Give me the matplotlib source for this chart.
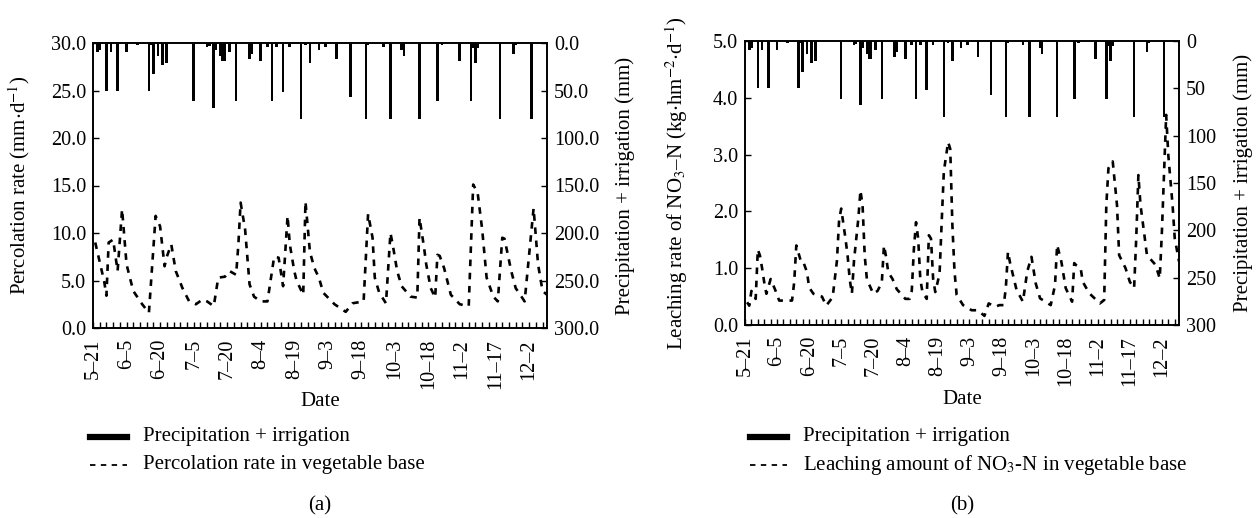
import matplotlib.pyplot as plt
from matplotlib.lines import Line2D
from matplotlib.ticker import FormatStrFormatter, MultipleLocator

plt.rcParams['font.family'] = ['Liberation Serif', 'DejaVu Serif']
plt.rcParams['mathtext.fontset'] = 'stix'

# x axis: days counted from 5-21
date_labels = ['5\u201321', '6\u20135', '6\u201320', '7\u20135', '7\u201320', '8\u20134', '8\u201319',
               '9\u20133', '9\u201318', '10\u20133', '10\u201318', '11\u20132', '11\u201317', '12\u20132']

# precipitation + irrigation (mm), same for both panels
rain_day = [2, 3, 6, 8, 11, 15, 20, 23, 25, 26, 27, 29, 31, 33, 45, 51, 52, 54, 55, 57, 58, 59, 61,
            64, 70, 71, 75, 78, 80, 82, 85, 88, 93, 95, 97, 101, 104, 109, 115, 122, 123, 130, 133,
            138, 139, 146, 154, 156, 164, 169, 170, 171, 172, 182, 188, 189, 196]
rain_mm = [9.5, 7, 50, 9.5, 50, 9.5, 2.5, 1, 50, 2, 33, 14, 23.5, 21, 61, 4.5, 3.5, 68, 7, 14, 19, 19, 9.5,
           61, 16.5, 12, 19, 4.5, 61, 4.5, 52, 4.5, 80, 2.5, 21, 7, 4.5, 16.5, 57, 80, 2.5, 4.5, 80,
           7, 14, 80, 61, 2.5, 18.5, 61, 5, 21, 5, 80, 11.5, 2.5, 80]

# (a) percolation rate (mm/d)
perc_day = [1, 5, 6, 7, 9, 11, 13, 15, 18, 22, 25, 28, 30, 32, 33, 35, 37, 40, 43, 46, 49, 51, 54, 56,
            59, 61, 64, 65, 66, 68, 70, 72, 75, 78, 81, 83, 85, 87, 88, 90, 91, 94, 95, 97, 99, 101,
            103, 108, 113, 116, 121, 123, 125, 126, 128, 131, 133, 134, 136, 138, 142, 145, 146, 148,
            149, 151, 153, 154, 155, 157, 160, 164, 168, 170, 172, 174, 176, 179, 181, 183, 184, 187,
            189, 193, 195, 197, 199, 201, 203]
perc_val = [9.0, 4.9, 3.4, 9.0, 9.3, 6.0, 12.5, 6.7, 3.9, 2.5, 1.6, 11.8, 10.7, 6.5, 7.5, 8.8, 6.0, 4.2,
            2.8, 2.5, 3.0, 2.8, 2.3, 5.3, 5.4, 6.0, 5.6, 8.8, 13.2, 10.4, 4.6, 3.3, 2.8, 2.8, 7.5, 7.4,
            4.4, 11.8, 8.8, 6.0, 5.0, 3.5, 13.3, 8.0, 6.3, 5.3, 3.7, 2.5, 1.7, 2.6, 2.8, 12.0, 9.5,
            5.3, 3.7, 2.6, 10.0, 8.8, 6.0, 4.4, 3.3, 3.2, 11.6, 8.5, 6.7, 4.2, 3.2, 7.7, 7.6, 6.3, 3.5,
            2.5, 2.3, 15.1, 14.2, 10.4, 5.3, 3.3, 2.8, 9.5, 9.4, 6.0, 4.2, 2.8, 7.7, 12.6, 6.7, 3.9, 3.5]

# (b) NO3-N leaching rate (kg/hm2/d)
leach_day = [1, 2, 3, 5, 6, 7, 8, 9, 10, 12, 14, 16, 18, 22, 23, 24, 26, 27, 29, 30, 32, 34, 36, 38,
             41, 43, 44, 45, 47, 48, 49, 50, 51, 53, 54, 55, 56, 57, 58, 60, 62, 64, 65, 66, 67, 69,
             71, 75, 77, 78, 79, 80, 81, 82, 83, 85, 86, 87, 88, 89, 91, 92, 93, 95, 96, 97, 98, 99,
             102, 106, 109, 112, 114, 117, 119, 121, 122, 123, 124, 127, 130, 132, 134, 136, 138,
             143, 145, 146, 148, 150, 153, 154, 155, 157, 158, 161, 166, 168, 169, 170, 172, 174,
             175, 178, 180, 182, 183, 184, 185, 187, 188, 192, 194, 195, 197, 198, 200, 201, 203]
leach_val = [0.40, 0.34, 0.60, 0.46, 1.33, 1.22, 1.0, 0.75, 0.55, 0.81, 0.63, 0.43, 0.43, 0.43, 0.75,
             1.40, 1.14, 1.14, 0.93, 0.66, 0.55, 0.52, 0.50, 0.34, 0.49, 1.13, 1.84, 2.05, 1.52, 1.22,
             0.80, 0.55, 1.14, 1.87, 2.37, 2.10, 1.22, 0.81, 0.72, 0.55, 0.60, 0.75, 1.40, 1.20, 0.93,
             0.81, 0.63, 0.46, 0.46, 0.60, 1.34, 1.81, 1.52, 0.81, 0.58, 0.46, 1.58, 1.52, 0.81, 0.58,
             0.90, 1.81, 2.70, 3.22, 3.10, 1.76, 0.94, 0.53, 0.35, 0.26, 0.26, 0.16, 0.38, 0.32, 0.35,
             0.35, 0.65, 1.29, 1.09, 0.62, 0.41, 0.94, 1.20, 0.73, 0.47, 0.35, 0.70, 1.41, 1.11, 0.65,
             0.41, 1.09, 1.05, 1.00, 0.76, 0.56, 0.38, 0.44, 2.11, 2.76, 2.88, 2.11, 1.23, 1.00, 0.76,
             0.65, 1.53, 2.64, 2.11, 1.53, 1.23, 1.06, 0.82, 1.64, 3.70, 2.99, 2.11, 1.53, 1.12]

TICK_FS = 14.5
LAB_FS = 15


def draw_panel(ax, days, vals, ymax, ystep, ylabel, rfmt, label_x, date_y):
    ax.plot(days, vals, color='black', lw=1.9, dashes=(2.5, 2.5))
    ax.set_xlim(0, 203)
    ax.set_ylim(0, ymax)
    ax.yaxis.set_major_locator(MultipleLocator(ystep))
    ax.yaxis.set_major_formatter(FormatStrFormatter('%.1f'))
    ax.set_xticks(range(0, 196, 15))
    ax.set_xticklabels(date_labels, rotation=90)
    ax.xaxis.set_minor_locator(MultipleLocator(3))
    ax.tick_params(axis='x', which='both', direction='in', length=4, width=1, labelsize=TICK_FS, pad=8)
    ax.tick_params(axis='y', direction='in', length=4, width=1, labelsize=TICK_FS, pad=5)
    ax.set_xlabel('Date', fontsize=LAB_FS)
    ax.xaxis.set_label_coords(0.5, date_y)
    ax.set_ylabel(ylabel, fontsize=LAB_FS)
    ax.yaxis.set_label_coords(label_x[0], 0.5)

    ax2 = ax.twinx()
    ax2.bar(rain_day, rain_mm, width=1.2, color='black')
    ax2.set_ylim(300, 0)
    ax2.yaxis.set_major_locator(MultipleLocator(50))
    ax2.yaxis.set_major_formatter(FormatStrFormatter(rfmt))
    ax2.tick_params(axis='y', direction='in', length=4, width=1, labelsize=TICK_FS, pad=5)
    ax2.set_ylabel('Precipitation + irrigation (mm)', fontsize=LAB_FS)
    ax2.yaxis.set_label_coords(label_x[1], 0.5)
    for a in (ax, ax2):
        for s in a.spines.values():
            s.set_linewidth(1.2)
    ax.set_zorder(ax2.get_zorder() + 1)
    ax.patch.set_visible(False)


W, H = 1260, 518
fig = plt.figure(figsize=(W / 100, H / 100), dpi=100)
ax_a = fig.add_axes([93 / W, 1 - 328 / H, 454 / W, 285 / H])
ax_b = fig.add_axes([745 / W, 1 - 325 / H, 434 / W, 284 / H])

draw_panel(ax_a, perc_day, perc_val, 30, 5, r'Percolation rate (mm$\cdot$d$^{-1}$)', '%.1f',
           (-0.134, 1.150), -0.2246)
draw_panel(ax_b, leach_day, leach_val, 5, 1,
           'Leaching rate of NO$_3$\u2013N (kg$\\cdot$hm$^{-2}$$\\cdot$d$^{-1}$)', '%d',
           (-0.127, 1.124), -0.229)


# legends below each panel, drawn by hand in pixel positions
def legend_rows(x0, labels):
    ys = [437, 465]
    styles = [dict(lw=4.5), dict(lw=1.3, dashes=(3, 3))]
    for y, lab, st in zip(ys, labels, styles):
        fig.add_artist(Line2D([x0 / W, (x0 + 37) / W], [1 - y / H, 1 - y / H],
                              color='black', transform=fig.transFigure, **st))
        fig.text((x0 + 53) / W, 1 - y / H, lab, va='center', ha='left', fontsize=LAB_FS)


legend_rows(90, ['Precipitation + irrigation', 'Percolation rate in vegetable base'])
legend_rows(750, ['Precipitation + irrigation', 'Leaching amount of NO$_3$-N in vegetable base'])

fig.text(320 / W, 1 - 506 / H, '(a)', ha='center', va='center', fontsize=LAB_FS)
fig.text(962 / W, 1 - 506 / H, '(b)', ha='center', va='center', fontsize=LAB_FS)

fig.savefig('out.png', dpi=100)
